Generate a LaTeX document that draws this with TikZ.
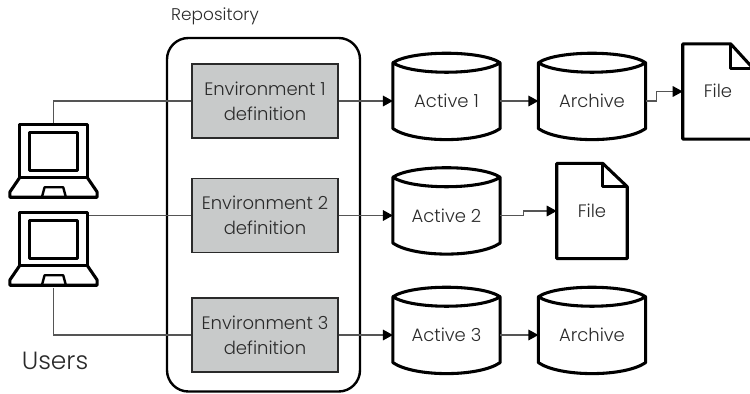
\documentclass[tikz,border=0pt]{standalone}
\usepackage{fontspec}
\setmainfont{Poppins Light}
\usetikzlibrary{arrows.meta}
\definecolor{defgray}{HTML}{C8CACA}
\definecolor{linkgray}{HTML}{555555}
\definecolor{textgray}{HTML}{2A2A2A}
\tikzset{
    outline/.style = {line width = 2.3pt, line join = round},
    defbox/.style = {draw = textgray, line width = 1.4pt, fill = defgray, minimum width = 109.5pt, minimum height = 55.5pt, align = center, inner sep = 0pt, text = textgray, font = \fontsize{13.5}{18.5}\selectfont},
    storebox/.style = {minimum width = 80pt, minimum height = 57pt, inner sep = 0pt, text = textgray, font = \fontsize{13.5}{16}\selectfont},
    filebox/.style = {minimum width = 52.5pt, minimum height = 71pt, inner sep = 0pt, text = textgray, font = \fontsize{13.5}{16}\selectfont},
    userbox/.style = {minimum width = 65pt, minimum height = 54pt, inner sep = 0pt},
    link/.style = {draw = linkgray, line width = 0.9pt},
    flow/.style = {link, -{Triangle[black, length = 7.5pt, width = 8pt]}},
}
\newcommand{\drawStore}[1]{
    \draw[outline] (#1.north west) .. controls +(14pt, 9.5pt) and +(-14pt, 9.5pt) .. (#1.north east)
        .. controls +(-14pt, -9.5pt) and +(14pt, -9.5pt) .. (#1.north west) -- ([yshift = 8pt]#1.south west)
        .. controls +(16pt, -11pt) and +(-16pt, -11pt) .. ([yshift = 8pt]#1.south east) -- (#1.north east);
}
\newcommand{\drawFile}[3]{
    \draw[outline] (#1.south west) -- (#1.north west) -- ([xshift = #2]#1.north west) -- ([yshift = #3]#1.north east) -- (#1.south east) -- cycle;
    \draw[outline] ([xshift = #2]#1.north west) -- ([xshift = #2, yshift = #3]#1.north west) -- ([yshift = #3]#1.north east);
}
\newcommand{\drawUser}[1]{
    \draw[outline] ([xshift = 7.5pt]#1.north west) rectangle ([xshift = -7.5pt, yshift = 15pt]#1.south east);
    \draw[outline] ([xshift = 15pt, yshift = -6pt]#1.north west) rectangle ([xshift = -15pt, yshift = 20pt]#1.south east);
    \draw[outline] ([xshift = 7.5pt, yshift = 15pt]#1.south west) -- ([yshift = 4pt]#1.south west) -- (#1.south west) -- (#1.south east) -- ([yshift = 4pt]#1.south east) -- ([xshift = -7.5pt, yshift = 15pt]#1.south east);
    \draw[line width = 1.8pt, line join = round] ([xshift = 24pt]#1.south west) -- ([xshift = 26pt, yshift = 7.5pt]#1.south west) -- ([xshift = 40pt, yshift = 7.5pt]#1.south west) -- ([xshift = 42pt]#1.south west);
}
\begin{document}
\begin{tikzpicture}[x = 0.75pt, y = -0.75pt]
    \useasboundingbox (0, 0) rectangle (750, 393);

    \draw[line width = 1.8pt, rounded corners = 16pt] (167, 38) rectangle (360, 391.5);
    \node[text = textgray, font = \fontsize{12.7}{14}\selectfont] (repo) at (215, 16) {Repository};

    \node[defbox] (envA) at (265, 101) {Environment 1\\definition};
    \node[defbox] (envB) at (265, 215.5) {Environment 2\\definition};
    \node[defbox] (envC) at (265, 335) {Environment 3\\definition};

    \coordinate (userBtop) at (88, 215.5);
    \node[userbox] (userA) at (53.5, 161) {};
    \node[userbox] (userB) at (53.5, 249) {};
    \draw[link] (userA.north) |- (envA.west);
    \draw[link] (userBtop) -- (envB.west);
    \draw[link] ([yshift = -2pt]userB.south) |- (envC.west);
    \drawUser{userA}
    \drawUser{userB}
    \node[text = textgray, font = \fontsize{18.7}{22}\selectfont] (users) at (55, 361) {Users};

    \node[storebox] (actA) at (446.5, 101) {Active 1};
    \node[storebox] (arcA) at (592, 101) {Archive};
    \node[storebox] (actB) at (446.5, 215.5) {Active 2};
    \node[storebox] (actC) at (446.5, 335) {Active 3};
    \node[storebox] (arcC) at (592, 335) {Archive};
    \node[filebox] (fileA) at (718, 91.5) {};
    \node[text = textgray, font = \fontsize{13.5}{16}\selectfont] (fileAtext) at (718, 91) {File};
    \node[filebox] (fileB) at (592, 211) {File};
    \drawStore{actA}
    \drawStore{arcA}
    \drawStore{actB}
    \drawStore{actC}
    \drawStore{arcC}
    \drawFile{fileA}{36pt}{-18.5pt}
    \drawFile{fileB}{34.5pt}{-17.5pt}

    \draw[flow] (envA.east) -- (actA.west);
    \draw[flow] (envB.east) -- (actB.west);
    \draw[flow] (envC.east) -- (actC.west);
    \draw[flow] (actA.east) -- (arcA.west);
    \draw[flow] (actC.east) -- (arcC.west);
    \draw[flow] (arcA.east) -- +(11, 0) |- (fileA.west);
    \draw[flow] (actB.east) -- +(23, 0) |- (fileB.west);
\end{tikzpicture}
\end{document}
